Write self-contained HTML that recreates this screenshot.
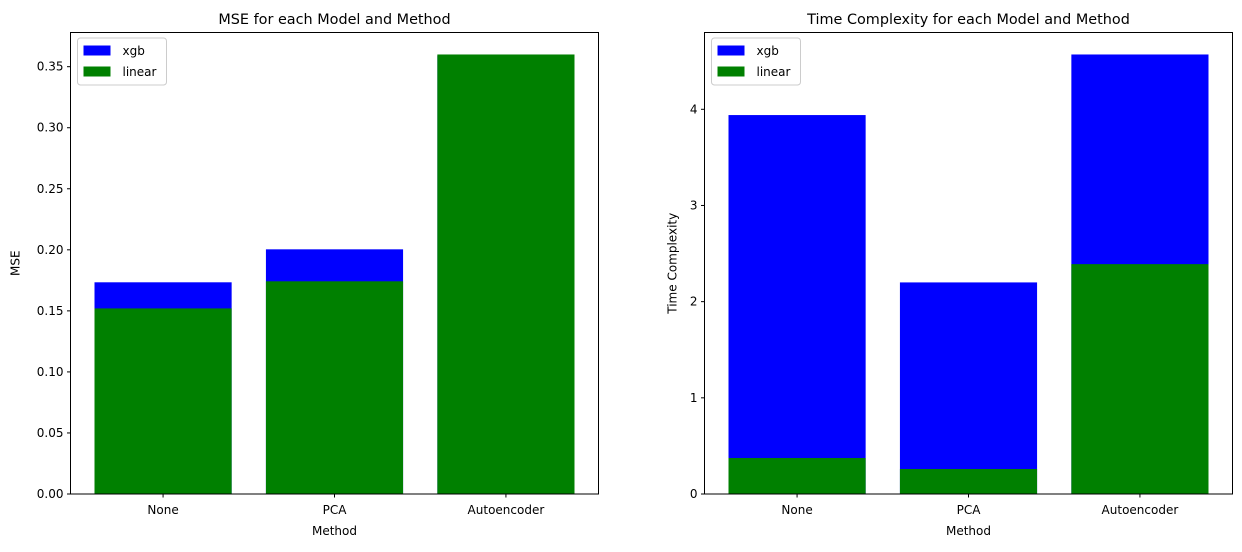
<!DOCTYPE html>
<html><head><meta charset="utf-8"><style>
body{margin:0;background:#fff;font-family:"Liberation Sans","DejaVu Sans",sans-serif}
svg text{font-family:"DejaVu Sans","Liberation Sans",sans-serif;fill:#000}
</style></head><body>
<svg id="c" width="1242" height="547"></svg>
<script>
const categories=["None","PCA","Autoencoder"];
const mseXgb=[0.1734,0.2004,0.359];
const mseLinear=[0.152,0.1742,0.360];
const mseTicks=[0,0.05,0.10,0.15,0.20,0.25,0.30,0.35];
const timeXgb=[3.94,2.20,4.57];
const timeLinear=[0.374,0.26,2.39];
const timeTicks=[0,1,2,3,4];
const svg=document.getElementById('c');
const NS='http://www.w3.org/2000/svg';
function mk(t,a,txt){const e=document.createElementNS(NS,t);for(const k in a)e.setAttribute(k,a[k]);if(txt!==undefined)e.textContent=txt;svg.appendChild(e);return e;}
function panel(L,title,ylab,xgb,lin,ticks,dec,prefix){
  const T=32.5,B=494,R=L+528;
  const ymax=Math.max(...xgb,...lin)*1.05;
  const y=v=>B-(v/ymax)*(B-T);
  const x=i=>L+(i+0.54)/3.08*(R-L);
  const bw=0.8/3.08*(R-L);
  [[xgb,'#0000ff','xgb'],[lin,'#008000','linear']].forEach(([d,col,nm])=>{
    d.forEach((v,i)=>{
      const r=mk('rect',{x:x(i)-bw/2,y:y(v),width:bw,height:B-y(v),fill:col});
      
      
    });
  });
  mk('rect',{x:L,y:T,width:R-L,height:B-T,fill:'none',stroke:'#000','stroke-width':1,});
  ticks.forEach(t=>{
    const yy=y(t);
    mk('line',{x1:L-3.5,x2:L,y1:yy,y2:yy,stroke:'#000'});
    const tx=mk('text',{x:L-7,y:yy+4,'font-size':12,'text-anchor':'end'},t.toFixed(dec));
    
    
  });
  categories.forEach((c,i)=>{
    mk('line',{x1:x(i),x2:x(i),y1:B,y2:B+3.5,stroke:'#000'});
    const tx=mk('text',{x:x(i),y:B+20,'font-size':12,'text-anchor':'middle'},c);
    
    
  });
  mk('text',{x:(L+R)/2,y:535,'font-size':12,'text-anchor':'middle',},'Method');
  mk('text',{x:0,y:0,'font-size':12,'text-anchor':'middle',transform:`translate(${L-ticksWidth(dec)},${(T+B)/2}) rotate(-90)`,},ylab);
  mk('text',{x:(L+R)/2,y:24,'font-size':14.4,'text-anchor':'middle',},title);
  mk('rect',{x:L+7,y:T+5.5,width:89,height:47,rx:3,fill:'#fff',stroke:'#ccc',});
  mk('rect',{x:L+13,y:T+13,width:27,height:10,fill:'#0000ff',});
  mk('text',{x:L+52,y:T+22.5,'font-size':12,},'xgb');
  mk('rect',{x:L+13,y:T+34,width:27,height:10,fill:'#008000',});
  mk('text',{x:L+52,y:T+43.5,'font-size':12,},'linear');
}
function ticksWidth(dec){return dec?51:28;}
panel(70.5,'MSE for each Model and Method','MSE',mseXgb,mseLinear,mseTicks,2,'mse');
panel(704.5,'Time Complexity for each Model and Method','Time Complexity',timeXgb,timeLinear,timeTicks,0,'time');
</script>
</body></html>
